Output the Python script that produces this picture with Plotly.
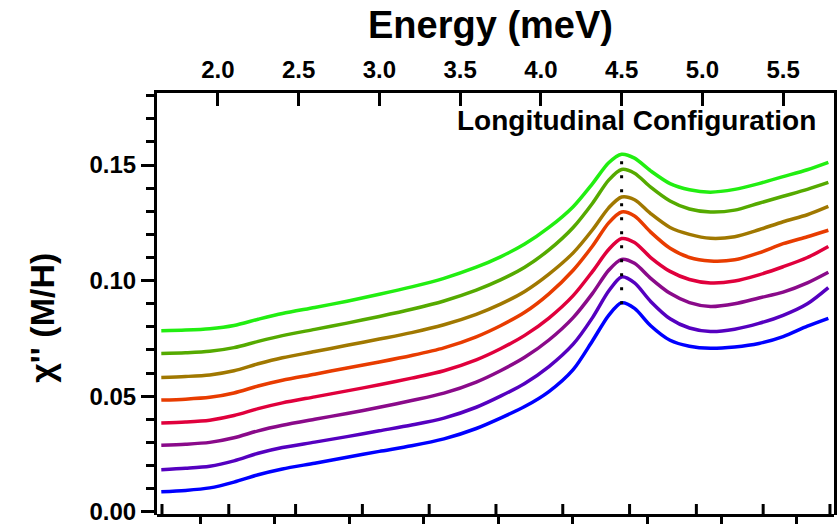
import plotly.graph_objects as go

# Energy grid (meV) shared by all spectra
energy = [1.65, 1.8, 1.95, 2.1, 2.25, 2.4, 2.6, 2.8, 3.0, 3.2, 3.4, 3.6, 3.75, 3.9,
          4.05, 4.2, 4.32, 4.42, 4.5, 4.58, 4.68, 4.8, 4.92, 5.05, 5.2, 5.35, 5.5,
          5.65, 5.78]

# chi'' spectra, stacked with a vertical offset (bottom to top)
chi_1 = [.0086, .0092, .0103, .0128, .0160, .0185, .0210, .0236, .0261, .0285, .0315,
         .0360, .0405, .0455, .0520, .0615, .0740, .0850, .0904, .0880, .0805, .0742,
         .0716, .0707, .0713, .0728, .0758, .0803, .0837]
chi_2 = [.0182, .0188, .0197, .0220, .0253, .0278, .0301, .0325, .0350, .0375, .0405,
         .0452, .0500, .0555, .0628, .0725, .0840, .0955, .1016, .0990, .0910, .0835,
         .0795, .0780, .0790, .0815, .0850, .0900, .0970]
chi_3 = [.0288, .0292, .0300, .0320, .0350, .0374, .0400, .0425, .0452, .0481, .0513,
         .0561, .0610, .0668, .0743, .0840, .0945, .1045, .1092, .1075, .1010, .0945,
         .0905, .0888, .0900, .0925, .0950, .0990, .1036]
chi_4 = [.0384, .0388, .0396, .0416, .0446, .0471, .0497, .0523, .0549, .0578, .0610,
         .0657, .0705, .0763, .0838, .0935, .1040, .1135, .1182, .1165, .1100, .1040,
         .1005, .0990, .0998, .1025, .1060, .1100, .1148]
chi_5 = [.0483, .0487, .0495, .0514, .0544, .0569, .0595, .0622, .0648, .0676, .0709,
         .0757, .0805, .0863, .0943, .1045, .1150, .1250, .1297, .1280, .1210, .1140,
         .1100, .1085, .1090, .1120, .1160, .1190, .1218]
chi_6 = [.0581, .0585, .0592, .0610, .0640, .0666, .0693, .0720, .0747, .0775, .0809,
         .0854, .0898, .0953, .1028, .1120, .1220, .1315, .1362, .1350, .1290, .1230,
         .1200, .1183, .1190, .1220, .1255, .1285, .1321]
chi_7 = [.0685, .0688, .0694, .0710, .0737, .0762, .0789, .0816, .0845, .0876, .0912,
         .0959, .1003, .1058, .1133, .1230, .1335, .1435, .1481, .1465, .1405, .1345,
         .1310, .1297, .1305, .1335, .1365, .1395, .1425]
chi_8 = [.0783, .0786, .0792, .0806, .0833, .0858, .0884, .0911, .0941, .0973, .1010,
         .1058, .1103, .1158, .1230, .1320, .1420, .1510, .1547, .1530, .1475, .1420,
         .1393, .1383, .1395, .1420, .1450, .1480, .1512]

spectra = [chi_1, chi_2, chi_3, chi_4, chi_5, chi_6, chi_7, chi_8]
colors = ["#0000ff", "#5500c0", "#8a0a8a", "#e0003c", "#e83c00", "#a07800",
          "#55aa00", "#22ee11"]

# resonance marker position (meV)
resonance = 4.5

# axis limits; lower edge carries a THz scale
e_min, e_max = 1.6234, 5.815
chi_min, chi_max = -0.00143, 0.1812
mev_per_thz = 4.1357
thz_ticks = [0.4, 0.5, 0.6, 0.7, 0.8, 0.9, 1.0, 1.1, 1.2, 1.3, 1.4]

FONT = "Liberation Sans, Arial, Helvetica, sans-serif"
PLOT_H = 524 - 93 - 9  # plot-area height in px

fig = go.Figure()

for vals, col in zip(spectra, colors):
    fig.add_trace(go.Scatter(x=energy, y=vals, mode="lines",
                             line=dict(color=col, width=3.5, shape="spline",
                                       smoothing=0.8),
                             showlegend=False, hoverinfo="skip"))

# dotted guide through the peaks
peak_vals = [v[energy.index(resonance)] for v in spectra]
fig.add_trace(go.Scatter(x=[resonance, resonance],
                         y=[min(peak_vals) - 0.0006, max(peak_vals) + 0.0008],
                         mode="lines",
                         line=dict(color="black", width=3, dash="3px,11px"),
                         showlegend=False, hoverinfo="skip"))

# THz scale: short inward ticks on the bottom frame
tick_h = 11 * (chi_max - chi_min) / PLOT_H
tx, ty = [], []
for t in thz_ticks:
    tx += [t * mev_per_thz, t * mev_per_thz, None]
    ty += [chi_min, chi_min + tick_h, None]
fig.add_trace(go.Scatter(x=tx, y=ty, mode="lines", line=dict(color="black", width=3),
                         showlegend=False, hoverinfo="skip", cliponaxis=False))

# invisible trace to activate the lower axis
fig.add_trace(go.Scatter(x=[e_min], y=[0], xaxis="x3", yaxis="y",
                         mode="markers", marker=dict(opacity=0), showlegend=False,
                         hoverinfo="skip"))

tickfont = dict(family=FONT, size=24, color="black", weight="bold")

fig.update_layout(
    width=840, height=524,
    margin=dict(l=157, r=6, t=93, b=9, autoexpand=False),
    paper_bgcolor="white", plot_bgcolor="white",
    xaxis=dict(range=[e_min, e_max], side="top", showgrid=False, zeroline=False,
               showline=True, linecolor="black", linewidth=3, mirror=False,
               ticks="inside", ticklen=13, tickwidth=3, tickcolor="black",
               tickvals=[2.0, 2.5, 3.0, 3.5, 4.0, 4.5, 5.0, 5.5],
               tickformat=".1f", tickfont=tickfont, ticklabelstandoff=2,
               ticklabeloverflow="allow", layer="above traces", automargin=False),
    xaxis3=dict(range=[e_min, e_max], overlaying="x", side="bottom",
                anchor="free", position=0, showgrid=False, zeroline=False,
                showline=True, linecolor="black", linewidth=3,
                ticks="outside", ticklen=9, tickwidth=3,
                tickcolor="black", tick0=1.891, dtick=0.4615,
                showticklabels=False, automargin=False),
    yaxis=dict(range=[chi_min, chi_max], showgrid=False, zeroline=False,
               showline=True, linecolor="black", linewidth=3, mirror=True,
               ticks="outside", ticklen=13, tickwidth=3, tickcolor="black",
               tick0=0, dtick=0.05, tickformat=".2f", tickfont=tickfont,
               ticklabeloverflow="allow", layer="above traces", automargin=False,
               minor=dict(dtick=0.01, ticks="outside", ticklen=8, tickwidth=3,
                          tickcolor="black", showgrid=False)),
    annotations=[
        dict(text="Energy (meV)", xref="paper", yref="paper", x=0.492, y=1.161,
             xanchor="center", yanchor="middle", showarrow=False,
             font=dict(family=FONT, size=38, color="black", weight="bold")),
        dict(text="\u03c7'' (M/H)", xref="paper", yref="paper", x=-0.17, y=0.467,
             xanchor="center", yanchor="middle", textangle=-90, showarrow=False,
             font=dict(family=FONT, size=34, color="black", weight="bold")),
        dict(text="Longitudinal Configuration", xref="paper", yref="paper",
             x=0.977, y=0.934, xanchor="right", yanchor="middle", showarrow=False,
             font=dict(family=FONT, size=28, color="black", weight="bold")),
    ],
)

fig.write_html("out.html")
